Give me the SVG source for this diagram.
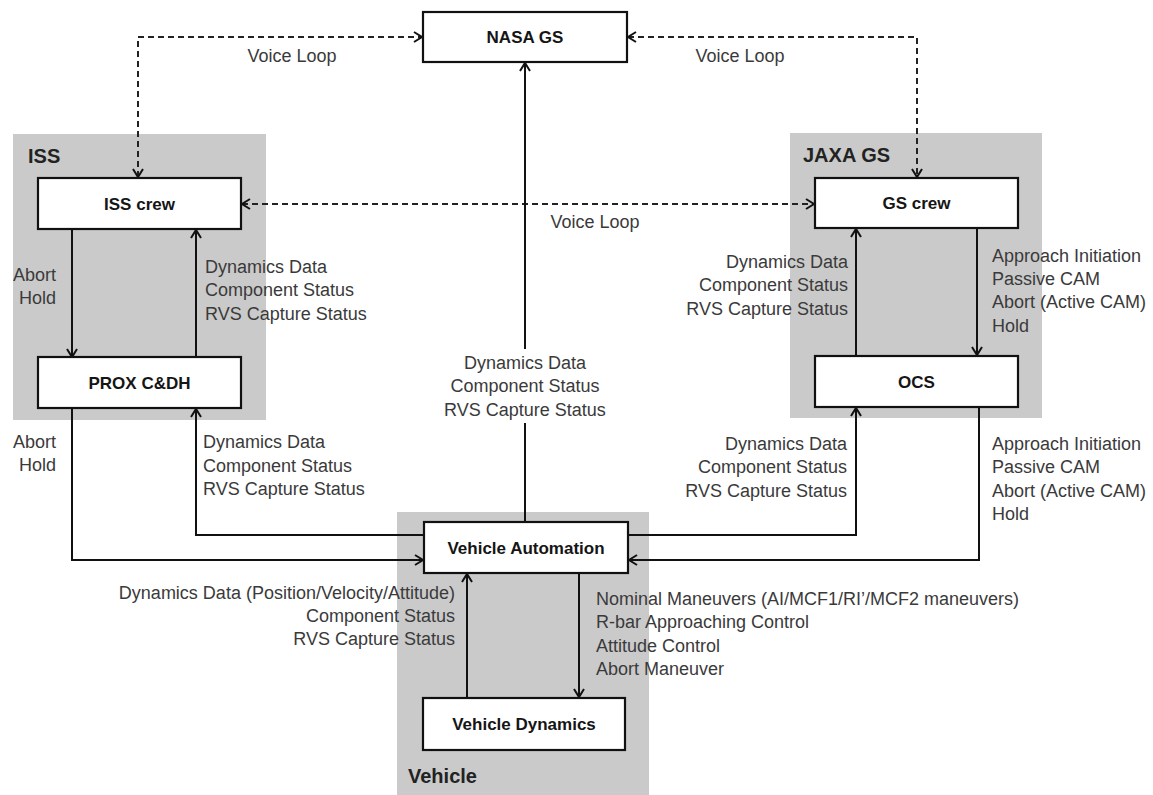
<svg xmlns="http://www.w3.org/2000/svg" width="1153" height="795" viewBox="0 0 1153 795">
<style>
.grp{fill:#cacaca}
.box{fill:#fff;stroke:#111;stroke-width:2.2}
.bl{font-family:"Liberation Sans",Arial,sans-serif;font-weight:bold;font-size:17px;fill:#151515;text-anchor:middle}
.gl{font-family:"Liberation Sans",Arial,sans-serif;font-weight:bold;font-size:20px;fill:#222}
.lb{font-family:"Liberation Sans",Arial,sans-serif;font-size:18px;fill:#3a3a3a}
.r{text-anchor:end}
.m{text-anchor:middle}
.ln{fill:none;stroke:#111;stroke-width:2}
.ds{fill:none;stroke:#222;stroke-width:2;stroke-dasharray:6 4}
</style>
<defs>
<marker id="ah" markerWidth="12" markerHeight="12" refX="9" refY="6" orient="auto-start-reverse" markerUnits="userSpaceOnUse">
<path d="M1,1 L9,6 L1,11" fill="none" stroke="#111" stroke-width="2"/>
</marker>
</defs>
<rect width="1153" height="795" fill="#fff"/>
<g id="group-iss"><rect class="grp" x="13" y="134" width="253" height="286"/><text class="gl" x="28" y="163">ISS</text></g>
<g id="group-jaxa"><rect class="grp" x="790" y="133" width="252" height="285"/><text class="gl" x="803" y="162">JAXA GS</text></g>
<g id="group-vehicle"><rect class="grp" x="397" y="512" width="252" height="283"/><text class="gl" x="408" y="783">Vehicle</text></g>
<g id="connectors">
<path class="ds" d="M138,177 V37 H422" marker-start="url(#ah)" marker-end="url(#ah)"/>
<path class="ds" d="M628,37 H917 V177" marker-start="url(#ah)" marker-end="url(#ah)"/>
<path class="ds" d="M242,204 H814" marker-start="url(#ah)" marker-end="url(#ah)"/>
<path class="ln" d="M72,229 V357" marker-end="url(#ah)"/>
<path class="ln" d="M196,357 V230" marker-end="url(#ah)"/>
<path class="ln" d="M72,408 V560 H423" marker-end="url(#ah)"/>
<path class="ln" d="M424,535 H196 V409" marker-end="url(#ah)"/>
<path class="ln" d="M856,356 V229" marker-end="url(#ah)"/>
<path class="ln" d="M977,228 V355" marker-end="url(#ah)"/>
<path class="ln" d="M628,535 H856 V408" marker-end="url(#ah)"/>
<path class="ln" d="M979,407 V560 H629" marker-end="url(#ah)"/>
<path class="ln" d="M525,522 V423"/>
<path class="ln" d="M525,349 V63" marker-end="url(#ah)"/>
<path class="ln" d="M467,698 V574" marker-end="url(#ah)"/>
<path class="ln" d="M579,573 V697" marker-end="url(#ah)"/>
</g>
<g id="labels">
<text class="lb m" x="292" y="62">Voice Loop</text>
<text class="lb m" x="740" y="62">Voice Loop</text>
<text class="lb m" x="595" y="228">Voice Loop</text>
<text class="lb r" x="56" y="281">Abort</text>
<text class="lb r" x="56" y="304">Hold</text>
<text class="lb" x="205" y="273">Dynamics Data</text>
<text class="lb" x="205" y="296">Component Status</text>
<text class="lb" x="205" y="320">RVS Capture Status</text>
<text class="lb r" x="56" y="448">Abort</text>
<text class="lb r" x="56" y="471">Hold</text>
<text class="lb" x="203" y="448">Dynamics Data</text>
<text class="lb" x="203" y="472">Component Status</text>
<text class="lb" x="203" y="495">RVS Capture Status</text>
<text class="lb m" x="525" y="369">Dynamics Data</text>
<text class="lb m" x="525" y="392">Component Status</text>
<text class="lb m" x="525" y="416">RVS Capture Status</text>
<text class="lb r" x="848" y="268">Dynamics Data</text>
<text class="lb r" x="848" y="291">Component Status</text>
<text class="lb r" x="848" y="315">RVS Capture Status</text>
<text class="lb" x="992" y="262">Approach Initiation</text>
<text class="lb" x="992" y="285">Passive CAM</text>
<text class="lb" x="992" y="308">Abort (Active CAM)</text>
<text class="lb" x="992" y="332">Hold</text>
<text class="lb r" x="847" y="450">Dynamics Data</text>
<text class="lb r" x="847" y="473">Component Status</text>
<text class="lb r" x="847" y="497">RVS Capture Status</text>
<text class="lb" x="992" y="450">Approach Initiation</text>
<text class="lb" x="992" y="473">Passive CAM</text>
<text class="lb" x="992" y="497">Abort (Active CAM)</text>
<text class="lb" x="992" y="520">Hold</text>
<text class="lb r" x="455" y="599">Dynamics Data (Position/Velocity/Attitude)</text>
<text class="lb r" x="455" y="622">Component Status</text>
<text class="lb r" x="455" y="645">RVS Capture Status</text>
<text class="lb" x="596" y="605">Nominal Maneuvers (AI/MCF1/RI’/MCF2 maneuvers)</text>
<text class="lb" x="596" y="628">R-bar Approaching Control</text>
<text class="lb" x="596" y="652">Attitude Control</text>
<text class="lb" x="596" y="675">Abort Maneuver</text>
</g>
<g id="node-nasa-gs"><rect class="box" x="423" y="12" width="204" height="50"/><text class="bl" x="525" y="43">NASA GS</text></g>
<g id="node-iss-crew"><rect class="box" x="38" y="178" width="203" height="51"/><text class="bl" x="139.5" y="210">ISS crew</text></g>
<g id="node-prox"><rect class="box" x="38" y="357" width="203" height="51"/><text class="bl" x="139.5" y="389">PROX C&amp;DH</text></g>
<g id="node-gs-crew"><rect class="box" x="815" y="178" width="203" height="50"/><text class="bl" x="916.5" y="209">GS crew</text></g>
<g id="node-ocs"><rect class="box" x="815" y="356" width="203" height="51"/><text class="bl" x="916.5" y="388">OCS</text></g>
<g id="node-vehicle-automation"><rect class="box" x="424" y="522" width="204" height="51"/><text class="bl" x="526" y="554">Vehicle Automation</text></g>
<g id="node-vehicle-dynamics"><rect class="box" x="423" y="698" width="202" height="52"/><text class="bl" x="524" y="730">Vehicle Dynamics</text></g>
</svg>
